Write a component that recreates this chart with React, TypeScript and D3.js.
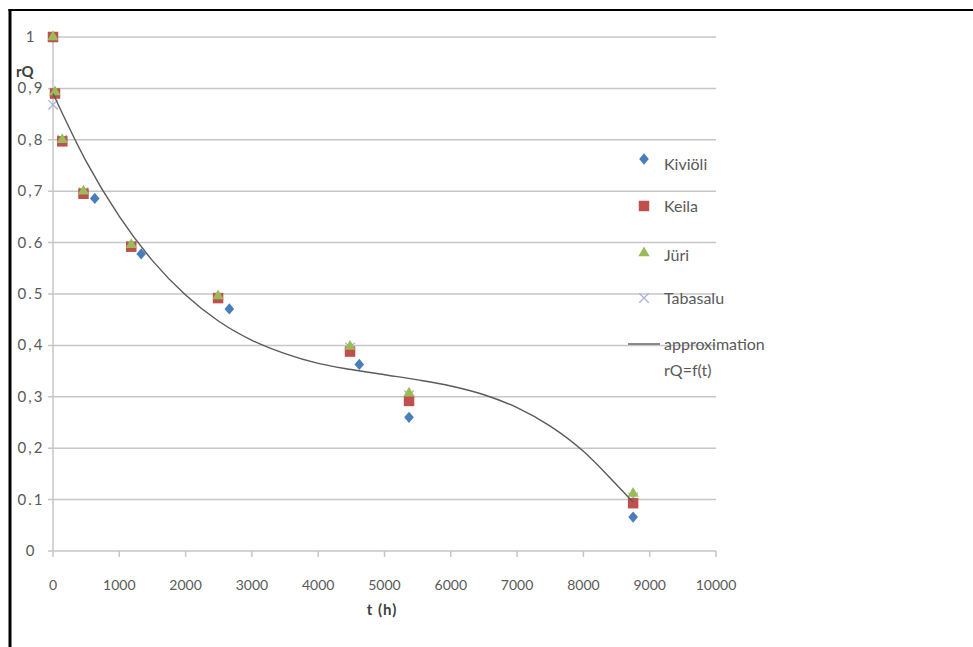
import * as d3 from "d3";

// measured series (t in hours, rQ relative)
const kivioliT = [0, 630, 1330, 2660, 4620, 5370, 8750];
const kivioliQ = [1.0, 0.686, 0.578, 0.471, 0.363, 0.26, 0.066];

const keilaT = [0, 30, 140, 460, 1180, 2490, 4480, 5370, 8750];
const keilaQ = [1.0, 0.89, 0.797, 0.695, 0.592, 0.492, 0.388, 0.292, 0.093];

const juriT = [0, 30, 140, 460, 1180, 2490, 4480, 5370, 8750];
const juriQ = [1.0, 0.893, 0.8, 0.7, 0.596, 0.496, 0.398, 0.307, 0.112];

const tabasaluT = [0, 0, 140, 460, 1180, 2490, 4480, 5370, 8750];
const tabasaluQ = [1.0, 0.868, 0.8, 0.698, 0.594, 0.493, 0.396, 0.303, 0.104];

// approximation curve rQ = f(t)
const approxT = [0, 500, 1000, 1500, 2000, 2500, 3000, 3500, 4000, 4500, 5000, 5500, 6000, 6500, 7000, 7500, 8000, 8500, 8750];
const approxQ = [0.89, 0.758, 0.651, 0.565, 0.498, 0.447, 0.41, 0.384, 0.365, 0.353, 0.343, 0.333, 0.321, 0.304, 0.279, 0.243, 0.194, 0.129, 0.095];

const yTicks = [0, 0.1, 0.2, 0.3, 0.4, 0.5, 0.6, 0.7, 0.8, 0.9, 1];
const yTickLabels = ["0", "0.1", "0,2", "0,3", "0,4", "0.5", "0.6", "0,7", "0,8", "0,9", "1"];
const xTicks = [0, 1000, 2000, 3000, 4000, 5000, 6000, 7000, 8000, 9000, 10000];

const legendNames = ["Kiviöli", "Keila", "Jüri", "Tabasalu"];

const W = 973;
const H = 647;
const FONT = "Lato, 'Open Sans', sans-serif";
const TEXT = "#595959";
const GRID = "#c6c6c6";

const x = d3.scaleLinear().domain([0, 10000]).range([53, 716]);
const y = d3.scaleLinear().domain([0, 1]).range([551, 37]);

// excel-like diamond (rotated square, slightly taller than wide)
const excelDiamond = {
  draw(ctx: any, size: number) {
    const h = Math.sqrt(size) * 0.6;
    const w = h * 0.85;
    ctx.moveTo(0, -h);
    ctx.lineTo(w, 0);
    ctx.lineTo(0, h);
    ctx.lineTo(-w, 0);
    ctx.closePath();
  },
};

const diamond = d3.symbol().type(excelDiamond).size(90)();
const square = d3.symbol().type(d3.symbolSquare).size(110)();
const triangle = d3.symbol().type(d3.symbolTriangle).size(55)();
const cross = d3.symbol().type(d3.symbolX).size(60)();

const series = [
  { name: "Tabasalu", t: tabasaluT, q: tabasaluQ, path: cross, fill: "none", stroke: "#a9b1d8" },
  { name: "Kiviöli", t: kivioliT, q: kivioliQ, path: diamond, fill: "#4a7ebb", stroke: "none" },
  { name: "Keila", t: keilaT, q: keilaQ, path: square, fill: "#c0504d", stroke: "none" },
  { name: "Jüri", t: juriT, q: juriQ, path: triangle, fill: "#9bbb59", stroke: "none" },
];

const curve = d3
  .line<number>()
  .x((d, i) => x(approxT[i]))
  .y((d) => y(d))
  .curve(d3.curveMonotoneX)(approxQ);

// legend rows (marker y, label y)
const legendMarkerX = 644;
const legendLabelX = 664;
const legendMarkerY = [159, 206, 253, 298];
const legendLabelY = [164, 206, 255, 298];

export default function App() {
  const bySeries = Object.fromEntries(series.map((s) => [s.name, s]));
  return (
    <svg
      width={W}
      height={H}
      style={{ position: "absolute", left: 0, top: 0, display: "block", background: "#fff" }}
      fontFamily={FONT}
    >
      {/* frame */}
      <line x1={10} x2={10} y1={9} y2={H + 5} stroke="#000" strokeWidth={3} />
      <line x1={8.5} x2={W + 5} y1={10} y2={10} stroke="#000" strokeWidth={2} />

      {/* grid + ticks */}
      {yTicks.map((v) => (
        <line key={"g" + v} x1={48} x2={x(10000)} y1={y(v)} y2={y(v)} stroke={GRID} strokeWidth={1.5} />
      ))}
      <line x1={x(0)} x2={x(0)} y1={y(1)} y2={y(0)} stroke={GRID} strokeWidth={1.5} />
      {xTicks.map((v) => (
        <line key={"xt" + v} x1={x(v)} x2={x(v)} y1={y(0)} y2={y(0) + 6} stroke={GRID} strokeWidth={1.5} />
      ))}

      {yTicks.map((v, i) => (
        <text
          key={"yl" + v}
          x={31}
          y={y(v) + 5}
          textAnchor="middle"
          fontSize={15}
          letterSpacing={2}
          fill={TEXT}
        >
          {yTickLabels[i]}
        </text>
      ))}
      {xTicks.map((v) => (
        <text key={"xl" + v} x={x(v)} y={590} textAnchor="middle" fontSize={14} fill={TEXT}>
          {String(v)}
        </text>
      ))}

      <text x={16} y={77} fontSize={15} fontWeight="bold" fill="#404040">
        rQ
      </text>
      <text x={382} y={615} textAnchor="middle" fontSize={15} fontWeight="bold" letterSpacing={1} fill="#404040">
        t (h)
      </text>

      {/* points */}
      {series.map((s) =>
        s.t.map((t, i) => (
          <path
            key={s.name + i}
            d={s.path}
            transform={`translate(${x(t)},${y(s.q[i])})`}
            fill={s.fill}
            stroke={s.stroke}
            strokeWidth={1.3}
          />
        ))
      )}

      {/* approximation */}
      <path d={curve} fill="none" stroke="#5a5a5a" strokeWidth={1.4} />

      {/* legend */}
      {legendNames.map((n, i) => {
        const s = bySeries[n];
        return (
          <g key={"lg" + n}>
            <path
              d={s.path}
              transform={`translate(${legendMarkerX},${legendMarkerY[i]})`}
              fill={s.fill}
              stroke={s.stroke}
              strokeWidth={1.3}
            />
            <text x={legendLabelX} y={legendLabelY[i] + 5.5} fontSize={16} fill={TEXT}>
              {n}
            </text>
          </g>
        );
      })}
      <line x1={628} x2={660} y1={344} y2={344} stroke="#5a5a5a" strokeWidth={1.4} />
      <text x={legendLabelX} y={349.5} fontSize={16} fill={TEXT}>
        approximation
      </text>
      <text x={legendLabelX} y={375.5} fontSize={16} fill={TEXT}>
        rQ=f(t)
      </text>
    </svg>
  );
}
